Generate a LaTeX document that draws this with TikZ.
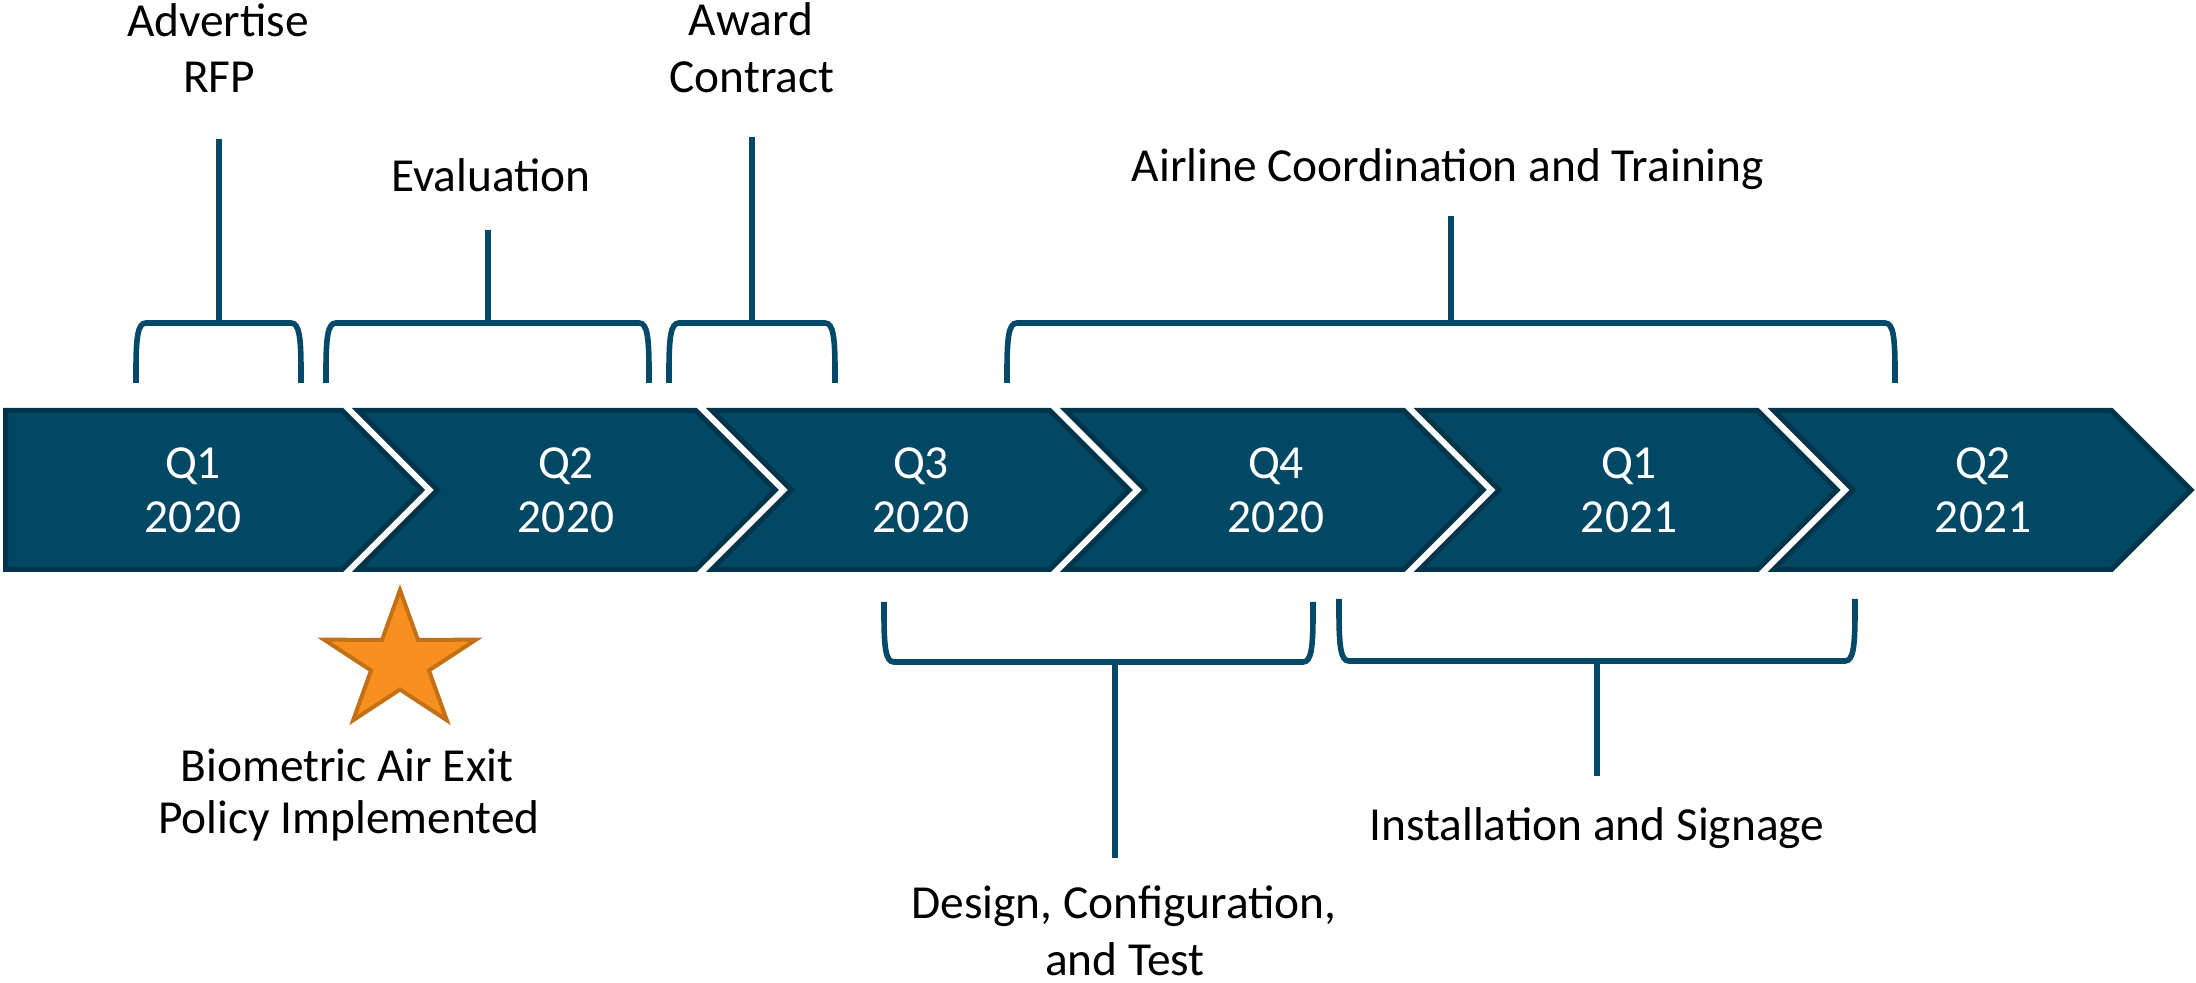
\documentclass[tikz,border=0pt]{standalone}
\usepackage{fontspec}
\setmainfont{Carlito}
\definecolor{chevfill}{RGB}{1,72,100}
\definecolor{chevline}{RGB}{0,52,74}
\definecolor{brk}{RGB}{4,74,104}
\definecolor{starfill}{RGB}{247,144,30}
\definecolor{starline}{RGB}{196,112,22}
\newcommand\lblfont{\fontsize{23.7}{27.5}\selectfont}
\newcommand\TopBrace[2]{%
  \draw[brace] (#1,383) -- (#1,372) .. controls (#1,338) and (#1+1.5,323) .. (#1+10,323)
    -- (#2-10,323) .. controls (#2-1.5,323) and (#2,338) .. (#2,372) -- (#2,383);}
\newcommand\BotBrace[4]{%
  \draw[brace] (#1,#3) -- (#1,#3+11) .. controls (#1,#4-15) and (#1+1.5,#4) .. (#1+10,#4)
    -- (#2-10,#4) .. controls (#2-1.5,#4) and (#2,#4-15) .. (#2,#3+11) -- (#2,#3);}
\begin{document}
\begin{tikzpicture}[x=0.5pt,y=-0.5pt,
  chev/.style={fill=chevfill, draw=chevline, line width=2.5pt, line join=miter},
  qlbl/.style={text=white, font=\lblfont, inner sep=0pt, anchor=base},
  lbl/.style={text=black, font=\lblfont, inner sep=0pt, anchor=base},
  brace/.style={draw=brk, line width=2.8pt},
  starshape/.style={fill=starfill, draw=starline, line width=2pt, line join=miter}]
\useasboundingbox (0,0) rectangle (2196,983);

% chevrons
\draw[chev] (5.5,410.5) -- (342,410.5) -- (421.5,490) -- (342,569.5) -- (5.5,569.5) -- cycle;
\node[qlbl] (qa) at (193,479) {Q1};
\node[qlbl] (ya) at (193,533) {2020};
\foreach \L/\R/\cx/\q/\yr/\nm in {358/695.9/566/Q2/2020/b, 711.9/1049.8/921/Q3/2020/c,
    1065.8/1403.7/1276/Q4/2020/d, 1419.7/1757.6/1629/Q1/2021/e, 1773.6/2111.5/1983/Q2/2021/f}{
  \draw[chev] (\L,410.5) -- (\R,410.5) -- (\R+79.5,490) -- (\R,569.5) -- (\L,569.5) -- (\L+79.5,490) -- cycle;
  \node[qlbl] (q\nm) at (\cx,479) {\q};
  \node[qlbl] (y\nm) at (\cx,533) {\yr};
}

% top labels
\node[lbl] (adv1) at (218,37) {Advertise};
\node[lbl] (adv2) at (219,93) {RFP};
\node[lbl] (eval) at (491,192) {Evaluation};
\node[lbl] (awd1) at (751,36) {Award};
\node[lbl] (awd2) at (752,93) {Contract};
\node[lbl] (air) at (1448,182) {Airline Coordination and Training};

% top brackets
\TopBrace{136}{301}
\TopBrace{326}{649}
\TopBrace{669}{835}
\TopBrace{1007}{1895}
\coordinate (s1a) at (219,323); \coordinate (s1b) at (219,139);
\coordinate (s2a) at (488,323); \coordinate (s2b) at (488,230);
\coordinate (s3a) at (752,323); \coordinate (s3b) at (752,137);
\coordinate (s4a) at (1451,323); \coordinate (s4b) at (1451,216);
\draw[brace] (s1a) -- (s1b);
\draw[brace] (s2a) -- (s2b);
\draw[brace] (s3a) -- (s3b);
\draw[brace] (s4a) -- (s4b);

% bottom brackets
\BotBrace{884}{1313}{602}{662}
\BotBrace{1339}{1855}{599}{661}
\coordinate (s5a) at (1115,662); \coordinate (s5b) at (1115,858);
\coordinate (s6a) at (1597,661); \coordinate (s6b) at (1597,776);
\draw[brace] (s5a) -- (s5b);
\draw[brace] (s6a) -- (s6b);

% star
\begin{scope}[shift={(400,662)}, xscale=1.107]
\draw[starshape] (-90:72) -- (-54:27.5) -- (-18:72) -- (18:27.5) -- (54:72) -- (90:27.5)
  -- (126:72) -- (162:27.5) -- (198:72) -- (234:27.5) -- cycle;
\end{scope}

% bottom labels
\node[lbl] (bio1) at (347,781) {Biometric Air Exit};
\node[lbl] (bio2) at (349,833) {Policy Implemented};
\node[lbl] (des1) at (1124,918) {Design, Configuration,};
\node[lbl] (des2) at (1125,975) {and Test};
\node[lbl] (inst) at (1597,840) {Installation and Signage};
\end{tikzpicture}
\end{document}
